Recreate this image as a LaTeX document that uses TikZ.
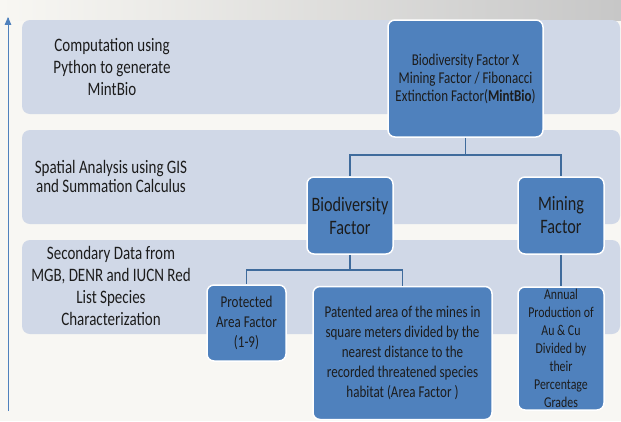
\documentclass[tikz,border=0pt]{standalone}
\usepackage{fontspec}
\setmainfont{Carlito}[FakeStretch=0.79]
\usetikzlibrary{arrows}
\definecolor{paper}{HTML}{F8F7F3}
\definecolor{bandblue}{HTML}{D0D8E7}
\definecolor{boxblue}{HTML}{4F81BD}
\definecolor{lineblue}{HTML}{3F6B9C}
\definecolor{ink}{HTML}{1C1C1C}
\newcommand{\fs}[2]{\fontsize{#1}{#2}\selectfont}

\begin{document}
\begin{tikzpicture}[x=1pt,y=-1pt,>=triangle 45]
\tikzstyle{band}=[fill=bandblue,rounded corners=8pt]
\tikzstyle{box}=[draw=white,line width=1.5pt,fill=boxblue,rounded corners=7pt,align=center,inner sep=2pt,text=ink]
\tikzstyle{lbl}=[align=center,text=ink]
\tikzstyle{conn}=[draw=lineblue,line width=1.5pt]
\useasboundingbox (0,0) rectangle (621,421);
\fill[paper] (0,0) rectangle (621,421);
\shade[left color=paper,right color=black!22] (0,0) rectangle (621,20);
% the three levels
\fill[band] (22,20) rectangle (620,114);
\fill[band] (22,130) rectangle (620,224);
\fill[band] (22,240) rectangle (620,334);
\coordinate (B0) at (8,411);
\coordinate (T0) at (8,17);
\draw[->,draw=boxblue,line width=0.8pt] (B0) -- (T0);
\node[lbl,font=\fs{19}{22}] (L1) at (112,67) {Computation using\\Python to generate\\MintBio};
\node[lbl,font=\fs{19}{19}] (L2) at (111,176) {Spatial Analysis using GIS\\and Summation Calculus};
\node[lbl,font=\fs{19}{22}] (L3) at (111,286) {Secondary Data from\\MGB, DENR and IUCN Red\\List Species\\Characterization};
% boxes
\node[box,minimum width=155pt,minimum height=117pt,font=\fs{16.5}{18}] (MB) at (465.5,78.5) {Biodiversity Factor X\\Mining Factor / Fibonacci\\Extinction Factor(\textbf{MintBio})};
\node[box,minimum width=86pt,minimum height=77pt,font=\fs{20.5}{23}] (BF) at (350,215.5) {Biodiversity\\Factor};
\node[box,minimum width=86pt,minimum height=77pt,font=\fs{20.5}{23}] (MF) at (561,215.5) {Mining\\Factor};
\node[box,minimum width=79pt,minimum height=76pt,font=\fs{16.5}{20}] (PA) at (246.5,323) {Protected\\Area Factor\\(1-9)};
\node[box,minimum width=179pt,minimum height=133pt,font=\fs{16.5}{20}] (PT) at (402.5,353) {Patented area of the mines in\\square meters divided by the\\nearest distance to the\\recorded threatened species\\habitat (Area Factor )};
\node[box,minimum width=86pt,minimum height=123pt,font=\fs{15}{18}] (AP) at (561,348.5) {Annual\\Production of\\Au \& Cu\\Divided by\\their\\Percentage\\Grades};
% connectors
\coordinate (J1) at (465.5,155);
\coordinate (J2) at (350,270);
\draw[conn] (MB.south) -- (J1) -| (BF.north);
\draw[conn] (J1) -| (MF.north);
\draw[conn] (BF.south) -- (J2) -| (PA.north);
\draw[conn] (J2) -| (PT.north);
\draw[conn] (MF.south) -- (AP.north);
\end{tikzpicture}
\end{document}
